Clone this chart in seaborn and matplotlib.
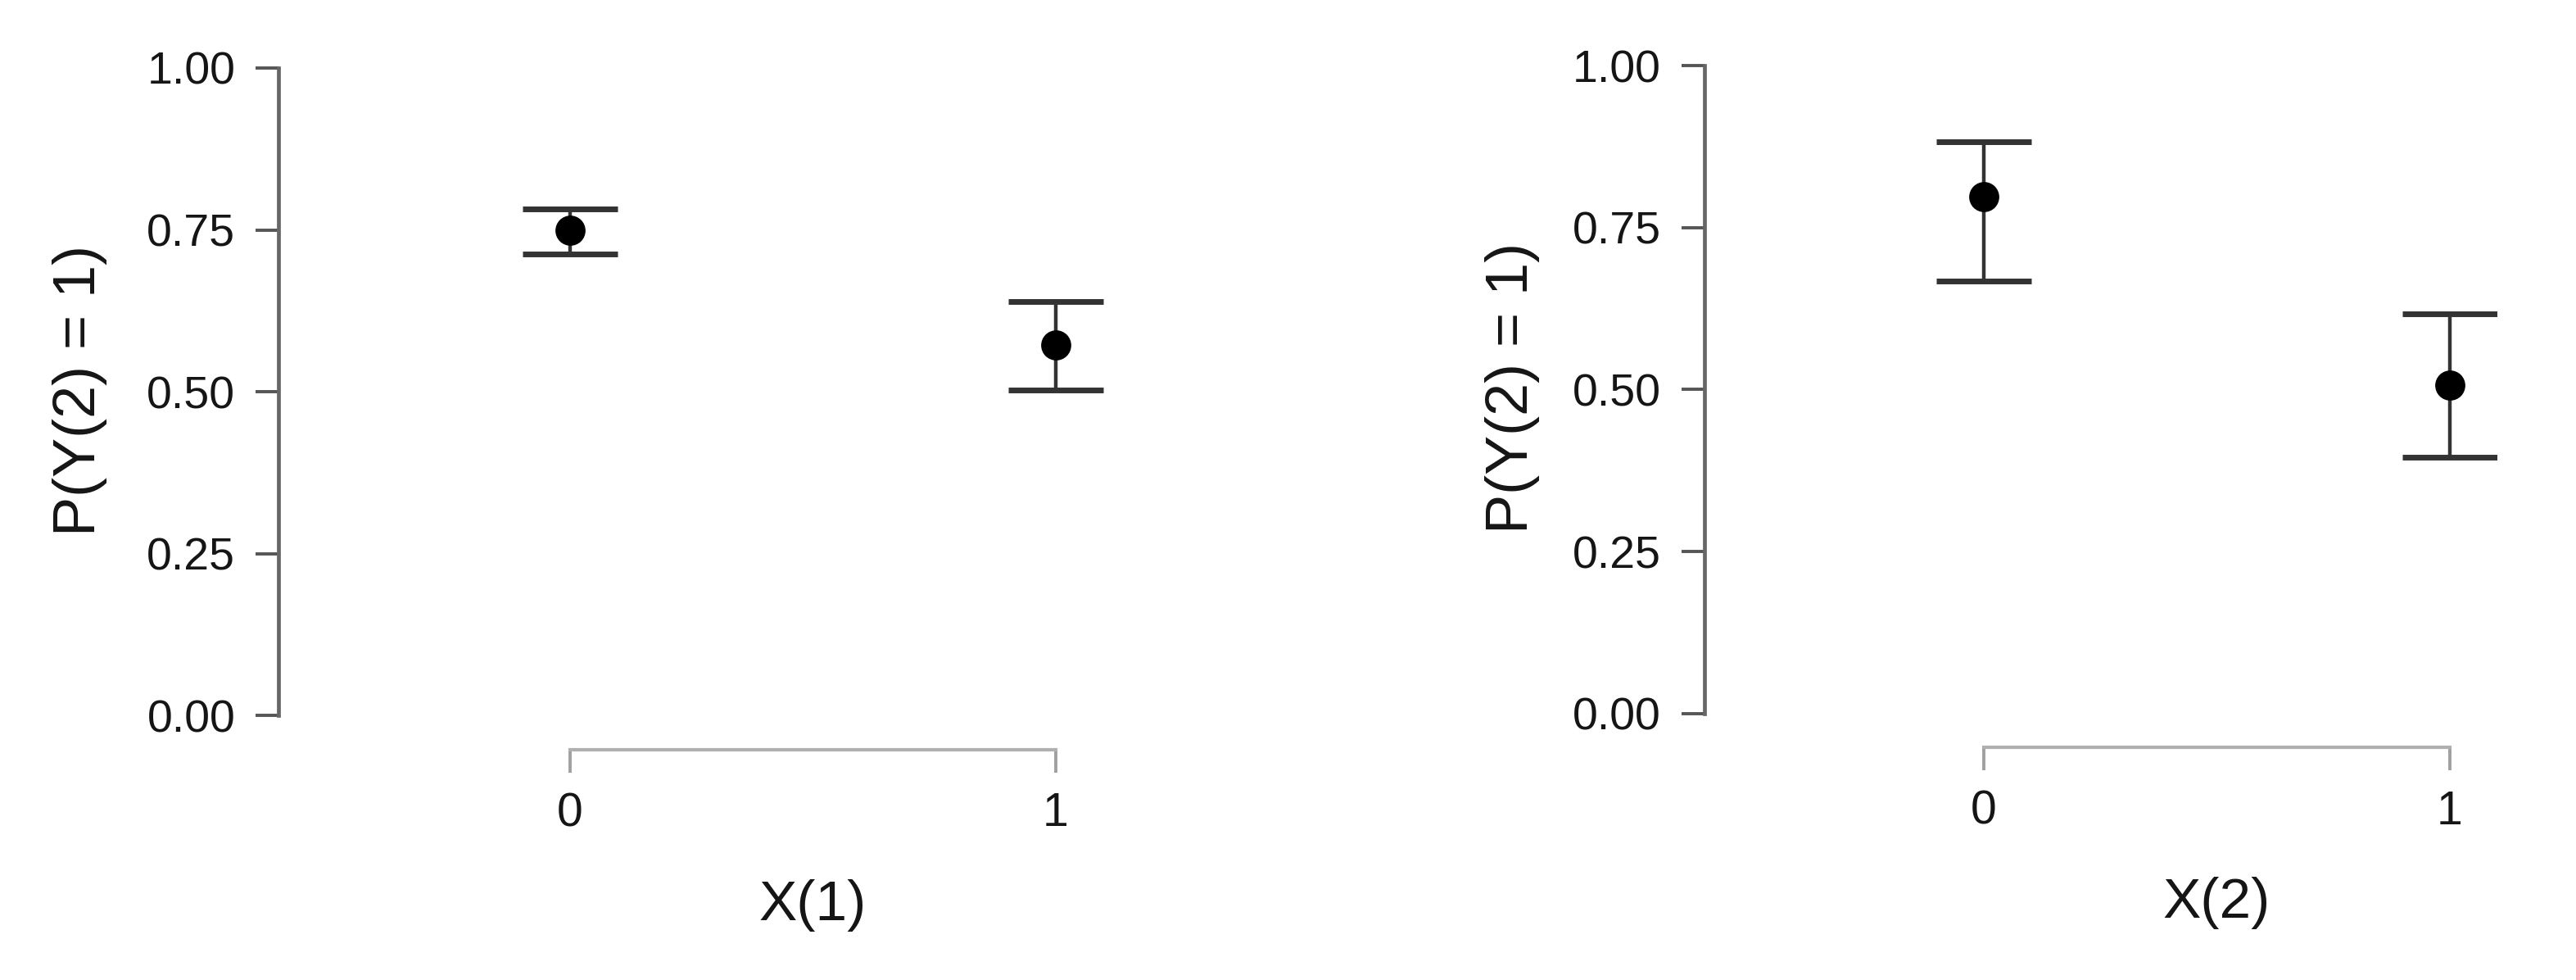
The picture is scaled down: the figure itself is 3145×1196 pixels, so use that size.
import matplotlib
matplotlib.use("Agg")
import matplotlib.pyplot as plt
import seaborn as sns
import pandas as pd

# ---- data ----
x_levels = [0, 1]
x1_est = [0.750, 0.572]
x1_lower = [0.713, 0.503]
x1_upper = [0.782, 0.639]
x2_est = [0.798, 0.507]
x2_lower = [0.667, 0.395]
x2_upper = [0.883, 0.617]
y_ticks = [0.00, 0.25, 0.50, 0.75, 1.00]
y_ticklabels = ["0.00", "0.25", "0.50", "0.75", "1.00"]
x_labels = ["X(1)", "X(2)"]
y_label = r"P(Y(2) = $\mathit{1}$)"

sns.set_style("ticks")
plt.rcParams["font.family"] = ["Liberation Sans", "DejaVu Sans"]
plt.rcParams["mathtext.fontset"] = "custom"
plt.rcParams["mathtext.rm"] = "Liberation Sans"
plt.rcParams["mathtext.it"] = "Liberation Sans:italic"

DPI = 100
fig = plt.figure(figsize=(31.45, 11.96), dpi=DPI)
ax1 = fig.add_axes([0.1081, 0.2697, 0.3205, 0.6610])
ax2 = fig.add_axes([0.6616, 0.2720, 0.3075, 0.6610])

panels = [
    (ax1, x1_est, x1_lower, x1_upper, x_labels[0]),
    (ax2, x2_est, x2_lower, x2_upper, x_labels[1]),
]

for ax, est, lo, hi, xl in panels:
    df = pd.DataFrame({"x": x_levels, "est": est, "lo": lo, "hi": hi})
    ax.errorbar(df["x"], df["est"],
                yerr=[df["est"] - df["lo"], df["hi"] - df["est"]],
                fmt="none", ecolor="#333333", elinewidth=3.2,
                capsize=42, capthick=5.0, zorder=2)
    sns.scatterplot(data=df, x="x", y="est", ax=ax, color="black",
                    s=700, linewidth=0, zorder=3, legend=False)
    ax.set_xlim(-0.6, 1.1)
    ax.set_ylim(0, 1)
    ax.set_xticks(x_levels)
    ax.set_xticklabels([str(v) for v in x_levels])
    ax.set_yticks(y_ticks)
    ax.set_yticklabels(y_ticklabels)

    for s in ["top", "right"]:
        ax.spines[s].set_visible(False)
    ax.spines["left"].set_bounds(0, 1)
    ax.spines["left"].set_color("#666666")
    ax.spines["left"].set_linewidth(3.4)
    ax.spines["bottom"].set_bounds(0, 1)
    ax.spines["bottom"].set_position(("outward", 30))
    ax.spines["bottom"].set_color("#b0b0b0")
    ax.spines["bottom"].set_linewidth(3.0)

    ax.tick_params(axis="y", length=20, width=2.8, color="#555555",
                   pad=18, labelsize=40, labelcolor="#151515")
    ax.tick_params(axis="x", length=20, width=2.8, color="#a0a0a0",
                   pad=17, labelsize=41, labelcolor="#151515")

    ax.set_ylabel(y_label, fontsize=52, color="#151515")
    ax.set_xlabel(xl, fontsize=50, color="#151515")
    ax.yaxis.set_label_coords(-0.205, 0.5)
    ax.xaxis.set_label_coords(0.647, -0.252)
    ax.set_facecolor("white")

fig.patch.set_facecolor("white")
fig.savefig("out.png", dpi=DPI, facecolor="white")
